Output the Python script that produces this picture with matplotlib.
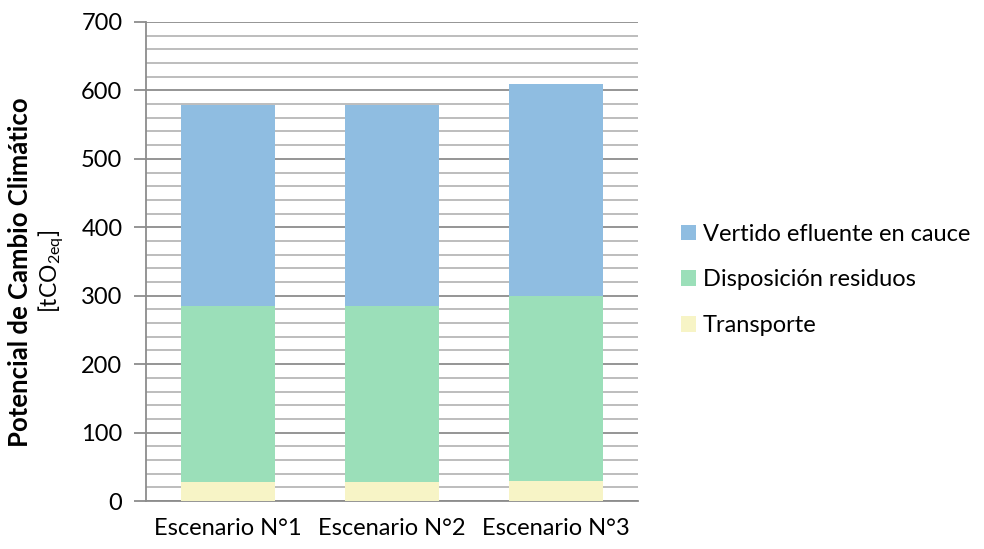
import matplotlib
matplotlib.use('Agg')
import matplotlib.pyplot as plt
import numpy as np
from matplotlib.ticker import MultipleLocator

escenarios = ['Escenario N°1', 'Escenario N°2', 'Escenario N°3']
transporte = [28, 28, 29]
disposicion = [257, 257, 271]
vertido = [294, 294, 310]

series = [
    ('Transporte', transporte, '#F7F4C6'),
    ('Disposición residuos', disposicion, '#9BDFB9'),
    ('Vertido efluente en cauce', vertido, '#8FBDE1'),
]

plt.rcParams['font.family'] = ['Lato', 'DejaVu Sans']
plt.rcParams['mathtext.default'] = 'regular'

fig = plt.figure(figsize=(9.84, 5.49), dpi=100)
ax = fig.add_axes([0.1484, 0.0874, 0.5, 0.8726])

x = np.arange(len(escenarios))
bottom = np.zeros(len(escenarios))
handles = []
for name, vals, color in series:
    b = ax.bar(x, vals, width=0.57, bottom=bottom, color=color, zorder=3, label=name)
    handles.append(b)
    bottom += np.array(vals)

ax.set_xlim(-0.5, 2.5)
ax.set_ylim(0, 700)
ax.yaxis.set_major_locator(MultipleLocator(100))
ax.yaxis.set_minor_locator(MultipleLocator(20))
ax.grid(axis='y', which='major', color='#8c8c8c', lw=1.3, zorder=0)
ax.grid(axis='y', which='minor', color='#b8b8b8', lw=1.3, zorder=0)
ax.set_axisbelow(True)

for side in ['top', 'right']:
    ax.spines[side].set_visible(False)
for side in ['left', 'bottom']:
    ax.spines[side].set_color('#8c8c8c')
    ax.spines[side].set_linewidth(1.3)

ax.set_xticks(x)
ax.set_xticklabels(escenarios, fontsize=17)
ax.tick_params(axis='x', length=0, pad=12)
ax.tick_params(axis='y', which='major', length=9, width=1.3, color='#8c8c8c', labelsize=17, pad=8)
ax.tick_params(axis='y', which='minor', length=0)

fig.text(0.020, 0.505, 'Potencial de Cambio Climático', rotation=90, fontsize=18.5,
         fontweight='bold', ha='center', va='center')
fig.text(0.052, 0.505, r'[tCO$_{2eq}$]', rotation=90, fontsize=16.5, ha='center', va='center')

fig.legend(handles[::-1], [s[0] for s in series][::-1], loc='center left',
           bbox_to_anchor=(0.67, 0.49), frameon=False, fontsize=17,
           handlelength=0.65, handleheight=0.65, handletextpad=0.3, labelspacing=1.05)

fig.savefig('out.png', dpi=100)
